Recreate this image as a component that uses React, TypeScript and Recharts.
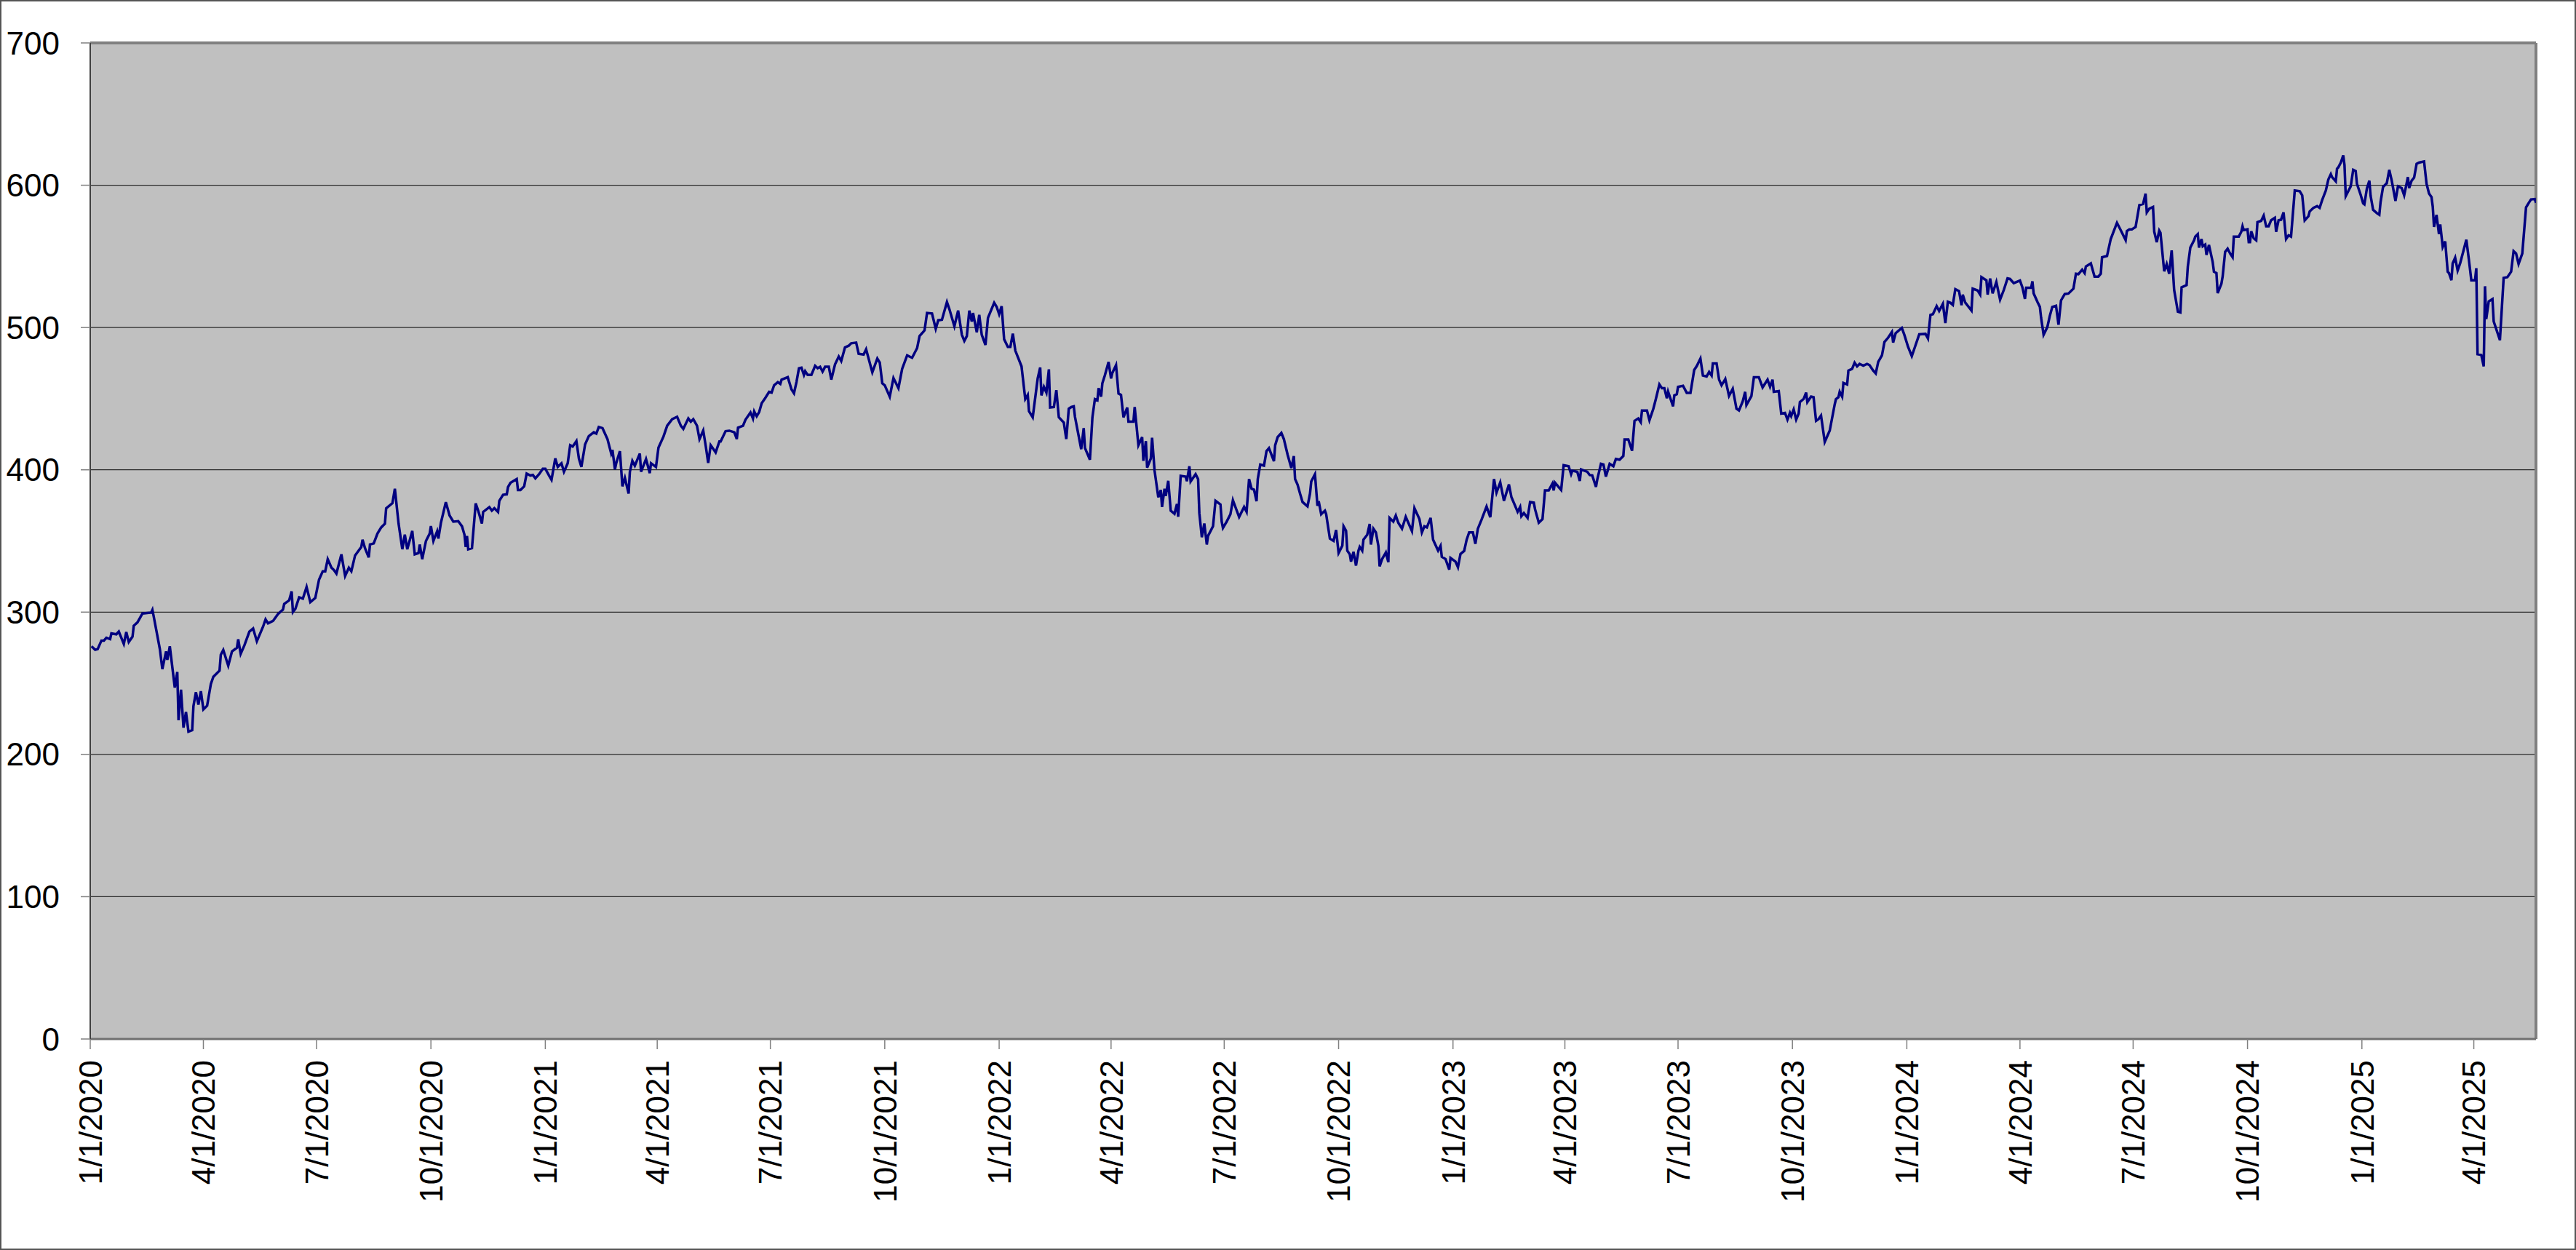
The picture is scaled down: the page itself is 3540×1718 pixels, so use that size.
import React from 'react';
import { LineChart, Line, XAxis, YAxis, CartesianGrid, ReferenceLine } from 'recharts';

// x values are days counted from 1/1/2020 (date axis)
const days2020 = [1, 4, 6, 9, 11, 13, 16, 17, 21, 23, 27, 29, 31, 34, 35, 38, 42, 49, 50, 51, 56, 58, 61, 62, 64, 68, 70, 71, 73, 75, 77, 79, 82, 83, 85, 87, 89, 91, 94, 97, 99, 104, 105, 107, 111, 114, 118, 119, 121, 124, 128, 131, 134, 139, 141, 143, 147, 151, 155, 156, 160, 162, 163, 165, 168, 171, 174, 177, 181, 184, 187, 189, 191, 194, 196, 198, 202, 205, 208, 210, 213, 218, 219, 221, 224, 225, 228, 231, 234, 237, 238, 243, 245, 248, 251, 253, 255, 259, 261, 264, 265, 267, 270, 273, 274, 276, 279, 280, 282, 286, 289, 292, 296, 299, 301, 302, 303, 304, 307, 310, 312, 315, 316, 321, 323, 325, 328, 329, 332, 335, 336, 338, 343, 344, 346, 349, 351, 354, 356, 358, 361, 364];
const vals2020 = [276, 273.5, 274, 280, 280, 282, 281, 285, 284.4, 286.3, 277.6, 286, 279, 282.7, 290.4, 292.8, 299, 299.7, 301.6, 297.2, 274, 260, 272.4, 266.4, 276, 247, 258, 224, 245.5, 218.8, 229.8, 216, 217, 234, 243.7, 235, 244.4, 231.6, 234.2, 249.4, 254.5, 258.9, 270, 273.4, 262.3, 272.4, 275, 280.9, 270.7, 276.7, 286.3, 288.5, 279.5, 289.8, 294.9, 292.1, 293.8, 298.6, 301.8, 305.7, 308.3, 314.6, 300, 302.3, 310.4, 309.5, 317.7, 307, 310, 322.8, 328.7, 328.7, 337.2, 331.2, 329.6, 327.1, 340.6, 325.4, 331.2, 328.7, 339.8, 345.8, 350.9, 344.9, 338.4, 347.5, 348.3, 355.2, 359.5, 362.1, 373, 376.5, 386.7, 362.1, 344.2, 354.4, 344.2, 357, 340.6, 341.5, 347.5, 337.2, 350, 355.2, 360.5, 350, 356.8, 351.7, 362.6, 377.3, 367.9, 363.6, 363.9, 360.3, 354.3, 345.8, 353.5, 344.1, 344.9, 376.4, 371.3, 362.3, 370.4, 373.8, 371.3, 373, 370.4, 378.2, 382.4, 382.8, 387.9, 390.9, 393.5, 385.8, 385.8, 388.4, 397.4, 396, 396.4, 394, 396.9, 400.8];

const days2021 = [366, 369, 371, 374, 376, 379, 381, 384, 386, 388, 391, 393, 395, 398, 401, 405, 407, 409, 412, 416, 419, 420, 422, 423, 426, 428, 430, 433, 434, 436, 438, 442, 443, 447, 450, 451, 455, 457, 461, 464, 468, 472, 475, 477, 481, 483, 485, 488, 490, 493, 495, 497, 499, 503, 506, 507, 511, 514, 518, 520, 521, 525, 527, 531, 533, 534, 536, 538, 540, 543, 546, 548, 550, 553, 555, 556, 561, 564, 566, 568, 570, 572, 574, 575, 577, 580, 583, 585, 587, 589, 591, 594, 596, 599, 602, 604, 607, 610, 612, 616, 618, 622, 624, 629, 633, 635, 637, 639, 643, 646, 650, 653, 657, 661, 665, 667, 671, 673, 677, 680, 682, 685, 689, 691, 695, 698, 701, 703, 705, 707, 709, 710, 713, 715, 717, 720, 722, 727, 729];
const vals2021 = [400.8, 396, 393, 408, 402, 404.6, 398.6, 404.6, 417.3, 416.4, 420.2, 408, 402, 417.9, 423.7, 426.4, 425.4, 430.1, 429.3, 421.6, 411.4, 414, 400.3, 404.6, 413.1, 388.4, 394.3, 383.3, 398.6, 406.3, 402.9, 411.4, 398.6, 407.6, 397.7, 404.6, 402, 415.6, 423.3, 431, 435.6, 437.3, 431, 428.8, 436.1, 433.8, 435.6, 431, 421.6, 427.6, 416.9, 404.9, 417.3, 412.2, 419.9, 419.9, 427.2, 427.5, 426.4, 421.6, 429.6, 431, 435.2, 440.3, 436, 441, 437.6, 440.6, 446.8, 450.6, 454.8, 454.3, 459.4, 461.6, 460.4, 463.3, 465.1, 456.5, 453.8, 461.7, 471.4, 471.8, 466.7, 469.3, 466.7, 466.7, 473.1, 471.4, 472.4, 469, 472.4, 472.4, 463.4, 474.1, 479.6, 476.5, 486, 487.2, 488.9, 489.4, 481.6, 481, 484.7, 468.5, 478.2, 475.3, 460.8, 459.4, 451.4, 464.5, 457.4, 471, 480.4, 478.7, 485.5, 494, 498, 510.2, 509.9, 499.1, 505.1, 505.5, 517.9, 512.8, 500.9, 511.9, 494.9, 490.6, 494, 511.9, 504.2, 510.2, 496.6, 508.9, 494.9, 487.7, 506.8, 517.4, 514.5];

const days2022 = [731, 733, 735, 738, 740, 742, 744, 749, 752, 754, 755, 758, 762, 764, 765, 767, 769, 771, 772, 775, 777, 779, 783, 785, 787, 789, 791, 792, 797, 799, 800, 804, 806, 808, 810, 811, 813, 814, 816, 819, 821, 822, 825, 827, 829, 831, 834, 835, 839, 840, 843, 846, 847, 849, 850, 853, 854, 856, 859, 861, 862, 864, 865, 867, 869, 872, 874, 875, 877, 881, 882, 884, 885, 889, 891, 892, 894, 896, 898, 899, 903, 905, 909, 910, 911, 914, 917, 919, 921, 924, 928, 930, 932, 934, 936, 938, 939, 941, 944, 946, 948, 950, 952, 953, 955, 958, 960, 963, 966, 968, 969, 971, 973, 975, 979, 981, 982, 985, 987, 988, 990, 993, 994, 997, 1000, 1002, 1004, 1007, 1008, 1010, 1011, 1013, 1014, 1016, 1018, 1020, 1021, 1023, 1024, 1027, 1029, 1030, 1032, 1034, 1036, 1037, 1039, 1042, 1044, 1045, 1048, 1050, 1052, 1055, 1058, 1063, 1065, 1069, 1071, 1073, 1075, 1078, 1080, 1084, 1086, 1087, 1090, 1093, 1094];
const vals2022 = [509.4, 515, 491.8, 486.4, 486.4, 495.7, 483.8, 472.7, 449.7, 452.6, 441.2, 436.9, 464.2, 471.9, 452.3, 458.3, 454.3, 470.6, 443.8, 444.1, 456, 436.9, 433.2, 421.6, 442.9, 444.1, 444.6, 437.2, 414.5, 429.3, 415.4, 407.1, 436.9, 449.7, 448.9, 457.4, 451.4, 460.8, 466.3, 475.8, 464.2, 468, 473.6, 453.6, 452.6, 436.9, 443.8, 433.8, 433.8, 444.1, 417.3, 423, 406.3, 420.2, 401.5, 408, 422.5, 399.4, 380.7, 385.8, 373.9, 386.7, 381.6, 392.3, 371.3, 369.1, 376, 367, 395.7, 395.2, 392, 402.5, 391.8, 396.9, 393.5, 369.6, 352.6, 362.3, 347.5, 353.5, 360.3, 378.2, 375.6, 363.6, 359.1, 363.6, 368.8, 378.7, 373.9, 366.8, 373.9, 370.5, 393.5, 386.7, 386, 377.9, 393.5, 403.7, 402.9, 413.1, 415.2, 410.6, 406, 417.3, 423, 425.9, 421.6, 410.6, 401.2, 409.7, 393.5, 389.6, 383.3, 377.4, 374.3, 383.3, 391.8, 396.9, 374.7, 378, 368.8, 371.3, 368.8, 351.7, 350, 357.7, 341.5, 346.6, 360.3, 357.2, 343.2, 340.6, 335.5, 342.4, 332.7, 343.2, 345.8, 343.2, 350.9, 354.3, 362, 347.5, 358.6, 356, 346.6, 332.2, 337.3, 341.9, 335.1, 366.2, 363.6, 367.9, 362.8, 358.6, 367, 356.9, 373, 365.4, 356, 360.3, 359.5, 366.2, 350.9, 343.2, 346.6, 338.9, 337.3, 329.9, 338.1];

const days2023 = [1098, 1100, 1102, 1105, 1107, 1109, 1112, 1114, 1116, 1119, 1123, 1126, 1129, 1131, 1134, 1137, 1141, 1143, 1148, 1150, 1151, 1153, 1156, 1158, 1161, 1162, 1165, 1168, 1170, 1173, 1176, 1177, 1178, 1183, 1185, 1189, 1191, 1192, 1196, 1198, 1199, 1204, 1206, 1208, 1211, 1212, 1215, 1217, 1219, 1222, 1225, 1227, 1230, 1233, 1234, 1237, 1240, 1242, 1245, 1247, 1248, 1252, 1254, 1257, 1259, 1262, 1264, 1266, 1268, 1269, 1273, 1274, 1276, 1277, 1281, 1284, 1287, 1290, 1292, 1295, 1297, 1300, 1302, 1304, 1305, 1308, 1310, 1312, 1315, 1318, 1321, 1324, 1326, 1329, 1331, 1332, 1336, 1338, 1342, 1345, 1349, 1351, 1353, 1354, 1358, 1360, 1363, 1365, 1367, 1368, 1370, 1372, 1374, 1375, 1378, 1380, 1381, 1384, 1386, 1388, 1390, 1392, 1395, 1399, 1403, 1404, 1406, 1407, 1409, 1410, 1413, 1414, 1417, 1419, 1421, 1423, 1426, 1429, 1431, 1434, 1436, 1438, 1441, 1443, 1446, 1449, 1450, 1452, 1457, 1459];
const vals2023 = [335.5, 331.5, 340.8, 343, 350.9, 356, 356, 348, 358.6, 365, 374.2, 366.7, 393.5, 384, 391.2, 378.2, 389.7, 380.8, 370.5, 373.9, 367.4, 369.6, 366.2, 377.3, 376.9, 372.3, 362.8, 365.4, 385.5, 385.5, 390.4, 385.5, 391, 385.8, 403.2, 402.5, 396.9, 399.4, 398.6, 392.2, 400.3, 398.6, 396.3, 396.1, 388, 393, 404.2, 403.7, 395.2, 404.2, 402.5, 407.6, 407.1, 409.7, 421.3, 421.3, 413.4, 434.4, 436.1, 433.5, 441.7, 441.7, 434.8, 442.5, 449.2, 460, 457.4, 457.4, 450.3, 455, 444.6, 452.3, 453.1, 458.3, 459.1, 454.1, 454.1, 470.2, 472.8, 478.2, 466.3, 465.6, 468.8, 466.3, 474.8, 474.8, 463.4, 459.4, 463.8, 451.9, 457, 442.9, 441.7, 448.1, 454.8, 445.5, 451.8, 465.1, 465.1, 457.9, 463.4, 458.3, 463.4, 454.8, 455.3, 439.5, 440, 435.3, 440, 437.8, 442.5, 435.3, 439.5, 447.6, 449.8, 454.3, 447.6, 451.5, 451, 434.4, 435.6, 438.1, 419.6, 427.6, 446, 449.7, 451, 454.9, 451.4, 461.1, 460, 469.7, 471, 475.3, 472.7, 474.4, 473.2, 474.4, 473.6, 469.7, 467.7, 475.9, 480.4, 489.8, 492.9, 496.9, 489.4, 496, 499.7, 494.9];

const days2024 = [1462, 1465, 1467, 1471, 1476, 1478, 1480, 1482, 1485, 1487, 1490, 1492, 1494, 1496, 1498, 1500, 1503, 1505, 1506, 1508, 1513, 1514, 1518, 1520, 1521, 1525, 1526, 1528, 1530, 1533, 1536, 1539, 1542, 1544, 1547, 1552, 1554, 1556, 1557, 1561, 1562, 1563, 1566, 1568, 1569, 1571, 1574, 1576, 1578, 1581, 1583, 1585, 1588, 1591, 1595, 1597, 1599, 1602, 1604, 1605, 1609, 1612, 1615, 1617, 1618, 1622, 1625, 1628, 1630, 1633, 1637, 1638, 1640, 1642, 1645, 1647, 1648, 1651, 1653, 1654, 1656, 1659, 1660, 1662, 1664, 1665, 1668, 1670, 1672, 1674, 1676, 1679, 1681, 1682, 1686, 1687, 1689, 1692, 1693, 1695, 1696, 1698, 1699, 1701, 1702, 1704, 1707, 1708, 1710, 1711, 1714, 1715, 1717, 1719, 1721, 1723, 1724, 1728, 1730, 1731, 1732, 1735, 1736, 1737, 1738, 1740, 1742, 1743, 1746, 1748, 1750, 1752, 1754, 1757, 1758, 1760, 1762, 1764, 1766, 1768, 1770, 1773, 1777, 1779, 1781, 1784, 1785, 1788, 1791, 1793, 1795, 1798, 1800, 1802, 1803, 1806, 1807, 1808, 1810, 1812, 1813, 1814, 1817, 1818, 1820, 1822, 1823, 1826];
const vals2024 = [486.4, 479.9, 485, 495.2, 495.5, 492.3, 508.9, 509.4, 515, 511.6, 516.7, 503.1, 518.1, 517.4, 515.9, 527, 525.6, 515.7, 523.1, 517.5, 511.9, 527.3, 526, 523.1, 535.4, 533.2, 523.1, 534.5, 524, 532, 519.6, 526.4, 534.5, 534.1, 531.2, 533, 528.1, 520.1, 527.9, 527.9, 532.5, 524, 518.1, 514.5, 506.8, 494.9, 500.3, 508.2, 514.5, 515.3, 502, 519, 523.5, 523.9, 527.3, 537.8, 537.5, 540.7, 538.2, 542.9, 545.1, 535.8, 535.8, 537.8, 549.4, 550.3, 562.2, 569, 573.6, 568.5, 561.4, 567.8, 569, 569, 570.7, 580.9, 586, 586.8, 594.1, 580.9, 583.5, 584.7, 567.3, 560, 568.1, 566.5, 539.5, 544.6, 537.8, 554.2, 526.4, 511.1, 510.6, 528.2, 529.8, 542.9, 556.2, 561.3, 563.9, 565.6, 556.2, 562.2, 557.1, 558.3, 551.1, 558, 546, 539.2, 538.3, 524.2, 530.7, 535.8, 553.2, 555.4, 552, 549.4, 563.9, 563.9, 567.3, 571.2, 568.5, 569, 560, 560, 567.6, 562.7, 561.3, 574.1, 575, 578.7, 571.2, 571.2, 575.4, 577.1, 567.3, 575.4, 575.8, 580.9, 562.2, 564.8, 563.9, 596.3, 595.8, 592.9, 575.3, 578.2, 581.6, 584.1, 585.3, 584.1, 589.5, 596.3, 604, 607.8, 605.7, 602.7, 611.6, 612.5, 615.9, 621, 614.2, 592.4, 597.5, 599.2, 610.8, 609.9, 601, 593.3];

const days2025 = [1828, 1829, 1831, 1833, 1834, 1836, 1839, 1841, 1842, 1844, 1847, 1849, 1851, 1854, 1856, 1859, 1861, 1864, 1865, 1867, 1869, 1871, 1873, 1877, 1879, 1881, 1883, 1884, 1885, 1887, 1889, 1890, 1892, 1894, 1896, 1897, 1899, 1900, 1902, 1904, 1906, 1911, 1913, 1915, 1918, 1919, 1920, 1923, 1925, 1926, 1927, 1929, 1932, 1933, 1938, 1941, 1944, 1947, 1949, 1951, 1953, 1956, 1959, 1961, 1963, 1966, 1967];
const vals2025 = [587.3, 586.6, 597.7, 603.2, 592.6, 582.7, 580.4, 579.2, 588.1, 598.8, 601.4, 610.8, 603.2, 589, 599.2, 598, 592.9, 605.7, 598, 603.2, 605.4, 615, 615.9, 616.7, 601, 594.2, 591.6, 584.8, 570.7, 579.2, 565.6, 572.4, 556.6, 560.5, 539.2, 538.3, 533.2, 545.1, 549.1, 540.1, 545.1, 561.7, 548, 533.2, 533.2, 541.7, 481.2, 480.7, 472.7, 529, 506, 518.3, 520, 504.3, 491.1, 534.9, 535.4, 539.2, 553.7, 552, 544.6, 552, 584.4, 587.3, 590, 590.3, 587.7];

const tickLabels = ['1/1/2020', '4/1/2020', '7/1/2020', '10/1/2020', '1/1/2021', '4/1/2021', '7/1/2021', '10/1/2021', '1/1/2022', '4/1/2022', '7/1/2022', '10/1/2022', '1/1/2023', '4/1/2023', '7/1/2023', '10/1/2023', '1/1/2024', '4/1/2024', '7/1/2024', '10/1/2024', '1/1/2025', '4/1/2025'];
const yTicks = [0, 100, 200, 300, 400, 500, 600, 700];

const START = Date.UTC(2020, 0, 1);
const toDay = (label: string) => {
  const [m, d, y] = label.split('/').map(Number);
  return Math.round((Date.UTC(y, m - 1, d) - START) / 86400000);
};
const xTicks = tickLabels.map(toDay);
const lastDay = days2025[days2025.length - 1];

const segments: [number[], number[]][] = [
  [days2020, vals2020],
  [days2021, vals2021],
  [days2022, vals2022],
  [days2023, vals2023],
  [days2024, vals2024],
  [days2025, vals2025],
];
const data = segments.flatMap(([ds, vs]) => ds.map((day, i) => ({ day, value: vs[i] })));

const FONT = "'Liberation Sans', Arial, sans-serif";

const DateTick = (props: any) => {
  const { x, y, payload } = props;
  const label = tickLabels[xTicks.indexOf(payload.value)];
  return (
    <text
      x={x}
      y={y}
      transform={`rotate(-90, ${x}, ${y})`}
      textAnchor="end"
      dy="0.36em"
      fontSize={44}
      fontFamily={FONT}
      fill="#000"
    >
      {label}
    </text>
  );
};

export default function App() {
  return (
    <div
      style={{
        position: 'absolute',
        left: 0,
        top: 0,
        width: 3540,
        height: 1718,
        background: '#fff',
        boxShadow: 'inset 0 0 0 2px #555',
      }}
    >
      <LineChart width={3540} height={1718} data={data} margin={{ top: 59, right: 55, bottom: 0, left: 0 }}>
        <CartesianGrid vertical={false} fill="#C0C0C0" stroke="#2a2a2a" strokeWidth={1.2} />
        <XAxis
          dataKey="day"
          type="number"
          domain={[0, lastDay]}
          ticks={xTicks}
          interval={0}
          height={290}
          tickSize={14}
          tickMargin={15}
          tick={<DateTick />}
          tickLine={{ stroke: '#808080', strokeWidth: 1.5 }}
          axisLine={{ stroke: '#707070', strokeWidth: 3 }}
          allowDataOverflow
        />
        <YAxis
          type="number"
          domain={[0, 700]}
          ticks={yTicks}
          interval={0}
          width={124}
          tickSize={13}
          tickMargin={29}
          tick={{ fontSize: 44, fill: '#000', fontFamily: FONT }}
          tickLine={{ stroke: '#808080', strokeWidth: 1.5 }}
          axisLine={{ stroke: '#404040', strokeWidth: 2 }}
        />
        <ReferenceLine y={700} stroke="#808080" strokeWidth={4} />
        <ReferenceLine x={lastDay} stroke="#808080" strokeWidth={4} />
        <Line
          type="linear"
          dataKey="value"
          stroke="#000080"
          strokeWidth={3.5}
          dot={false}
          isAnimationActive={false}
        />
      </LineChart>
    </div>
  );
}
